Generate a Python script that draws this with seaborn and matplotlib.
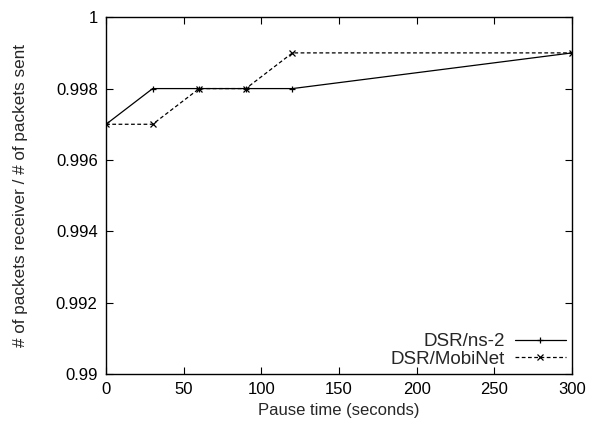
import matplotlib
matplotlib.use("Agg")
import matplotlib.pyplot as plt
import seaborn as sns
import pandas as pd

pause = [0, 30, 60, 90, 120, 300]
dsr_ns2 = [0.997, 0.998, 0.998, 0.998, 0.998, 0.999]
dsr_mobinet = [0.997, 0.997, 0.998, 0.998, 0.999, 0.999]
series_names = ["DSR/ns-2", "DSR/MobiNet"]
xticks = [0, 50, 100, 150, 200, 250, 300]
yticks = [0.99, 0.992, 0.994, 0.996, 0.998, 1.0]
yticklabels = ["0.99", "0.992", "0.994", "0.996", "0.998", "1"]

sns.set_style("ticks")
plt.rcParams['font.family'] = ['Liberation Sans', 'DejaVu Sans']

df1 = pd.DataFrame({"pause": pause, "value": dsr_ns2})
df2 = pd.DataFrame({"pause": pause, "value": dsr_mobinet})

fig = plt.figure(figsize=(6.06, 4.30), dpi=100)
ax = fig.add_axes([0.175, 0.130, 0.769, 0.830])

sns.lineplot(data=df1, x="pause", y="value", ax=ax, color="black",
             linestyle="-", linewidth=0.9, marker="+", markersize=5,
             markeredgewidth=0.9, markeredgecolor="black", label=series_names[0])
sns.lineplot(data=df2, x="pause", y="value", ax=ax, color="black",
             linestyle=(0, (3, 2)), linewidth=0.9, marker="x", markersize=4,
             markeredgewidth=0.9, markeredgecolor="black", label=series_names[1])

ax.set_xlim(0, 300)
ax.set_ylim(0.99, 1.0)
ax.set_xticks(xticks)
ax.set_xticklabels([str(t) for t in xticks])
ax.set_yticks(yticks)
ax.set_yticklabels(yticklabels)
ax.tick_params(direction="in", length=5, width=0.8, top=True, right=True,
               labelsize=12, pad=6, colors="black")
for s in ax.spines.values():
    s.set_linewidth(1.0)
    s.set_color("black")
    s.set_visible(True)
ax.set_xlabel("Pause time (seconds)", fontsize=12, labelpad=4)
ax.set_ylabel("# of packets receiver / # of packets sent", fontsize=12.3, labelpad=20)

handles, labels = ax.get_legend_handles_labels()
ax.legend(handles, labels, loc="lower right", frameon=False, markerfirst=False,
          fontsize=13.5, handlelength=2.7, handletextpad=0.55, labelspacing=0.0,
          borderaxespad=0.15, borderpad=0.2)

fig.savefig("out.png", dpi=100)
